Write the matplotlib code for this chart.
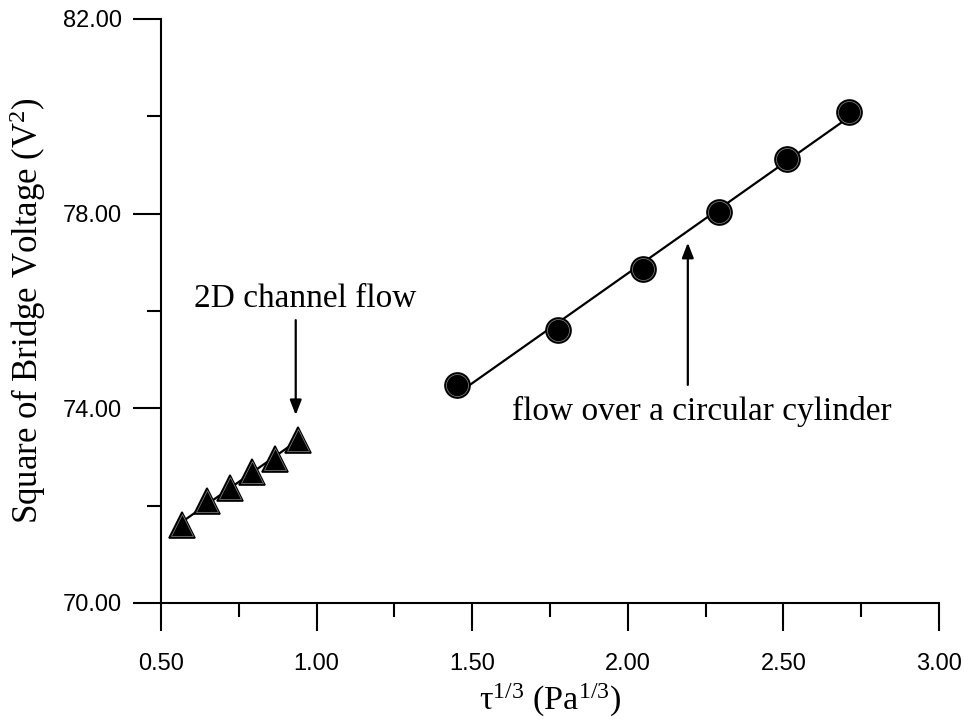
import numpy as np
import matplotlib

matplotlib.use("Agg")
import matplotlib.pyplot as plt

plt.rcParams["mathtext.fontset"] = "custom"
plt.rcParams["mathtext.rm"] = "Liberation Serif"
plt.rcParams["mathtext.it"] = "Liberation Serif:italic"

# calibration points: tau^(1/3) vs E^2
channel_x = [0.566, 0.648, 0.722, 0.791, 0.866, 0.941]
channel_y = [71.60, 72.10, 72.36, 72.70, 72.96, 73.35]

cylinder_x = [1.450, 1.775, 2.050, 2.293, 2.511, 2.712]
cylinder_y = [74.48, 75.61, 76.86, 78.03, 79.12, 80.09]

x_major = [0.50, 1.00, 1.50, 2.00, 2.50, 3.00]
x_minor = [0.75, 1.25, 1.75, 2.25, 2.75]
y_major = [70.0, 74.0, 78.0, 82.0]
y_minor = [72.0, 76.0, 80.0]

SERIF = "Liberation Serif"
SANS = "Liberation Sans"


def fit_line(ax, xs, ys):
    k, b = np.polyfit(xs, ys, 1)
    xx = np.array([xs[0], xs[-1]])
    ax.plot(xx, k * xx + b, color="black", lw=1.6, zorder=2)


def markers(ax, xs, ys, marker, size):
    # black marker with a thin grey inner ring
    ax.plot(xs, ys, ls="none", marker=marker, ms=size, mfc="black",
            mec="black", mew=1.2, zorder=3)
    ax.plot(xs, ys, ls="none", marker=marker, ms=size - 2.2, mfc="black",
            mec="#8a8a8a", mew=0.5, zorder=4)


fig = plt.figure(figsize=(9.64, 7.23), dpi=100)
ax = fig.add_axes([0.167, 0.166, 0.807, 0.808])

fit_line(ax, channel_x, channel_y)
fit_line(ax, cylinder_x, cylinder_y)
markers(ax, channel_x, channel_y, "^", 18.5)
markers(ax, cylinder_x, cylinder_y, "o", 18)

ax.set_xlim(0.5, 3.0)
ax.set_ylim(70.0, 82.0)
ax.set_xticks(x_major)
ax.set_xticks(x_minor, minor=True)
ax.set_yticks(y_major)
ax.set_yticks(y_minor, minor=True)
ax.set_xticklabels([f"{v:.2f}" for v in x_major], fontfamily=SANS, fontsize=17)
ax.set_yticklabels([f"{v:.2f}" for v in y_major], fontfamily=SANS, fontsize=17)

for s in ("top", "right"):
    ax.spines[s].set_visible(False)
for s in ("left", "bottom"):
    ax.spines[s].set_linewidth(1.5)
ax.tick_params(axis="x", which="major", direction="out", length=20,
               width=1.5, pad=16)
ax.tick_params(axis="y", which="major", direction="out", length=20,
               width=1.5, pad=8)
ax.tick_params(which="minor", direction="out", length=10, width=1.5)

ax.set_xlabel("τ$^{1/3}$ (Pa$^{1/3}$)", fontfamily=SERIF, fontsize=24.5,
              labelpad=5)
ax.set_ylabel("Square of Bridge Voltage (V$^{2}$)", fontfamily=SERIF,
              fontsize=25, labelpad=11)

arrow = dict(arrowstyle="-|>,head_length=0.9,head_width=0.35",
             color="black", lw=1.6, shrinkA=0, shrinkB=0)

ax.text(0.965, 76.09, "2D channel flow", fontfamily=SERIF, fontsize=24,
        ha="center", va="baseline")
ax.annotate("", xy=(0.933, 73.86), xytext=(0.933, 75.81), arrowprops=arrow)

ax.text(2.237, 73.76, "flow over a circular cylinder", fontfamily=SERIF,
        fontsize=24, ha="center", va="baseline")
ax.annotate("", xy=(2.193, 77.4), xytext=(2.193, 74.48), arrowprops=arrow)

fig.savefig("out.png", dpi=100)
